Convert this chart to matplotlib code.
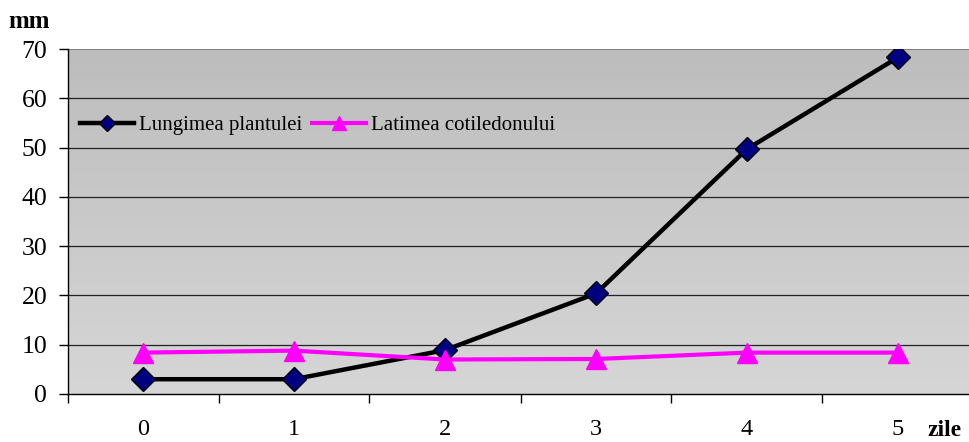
import numpy as np
import matplotlib
matplotlib.use('Agg')
import matplotlib.pyplot as plt

# Data
zile = [0, 1, 2, 3, 4, 5]
lungimea = [3.0, 3.0, 8.9, 20.4, 49.7, 68.3]
latimea = [8.4, 8.8, 7.0, 7.1, 8.4, 8.4]
y_ticks = [0, 10, 20, 30, 40, 50, 60, 70]

plt.rcParams['font.family'] = ['Liberation Serif', 'DejaVu Serif']

fig = plt.figure(figsize=(9.7, 4.42), dpi=100)
W, H = 970, 442
ax = fig.add_axes([67.5 / W, (H - 394) / H, 906 / W, 345 / H])

# gradient grey plot area
grad = np.linspace(0, 1, 256).reshape(-1, 1)
ax.imshow(grad, extent=[-0.5, 5.5, 0, 70], aspect='auto', origin='upper',
          cmap=matplotlib.colors.LinearSegmentedColormap.from_list('g', ['#bdbdbd', '#d6d6d6']),
          zorder=0)

# horizontal grid lines
for v in y_ticks[1:-1]:
    ax.axhline(v, color='#222222', lw=0.9, zorder=1)
ax.axhline(70, color='#808080', lw=1.5, zorder=1)

ax.plot(zile, lungimea, color='black', lw=3.2, marker='D', markersize=12.5,
        markerfacecolor='#000080', markeredgecolor='black', markeredgewidth=1,
        label='Lungimea plantulei', zorder=3)
ax.plot(zile, latimea, color='#ff00ff', lw=3, marker='^', markersize=15,
        markerfacecolor='#ff00ff', markeredgecolor='#ff00ff',
        label='Latimea cotiledonului', zorder=3)

ax.set_xlim(-0.5, 5.5)
ax.set_ylim(0, 70)
ax.set_yticks(y_ticks)
ax.set_xticks(zile)
ax.set_xticklabels([str(z) for z in zile])
ax.set_xticks(np.arange(-0.5, 6, 1), minor=True)
ax.tick_params(axis='x', which='major', length=0, pad=18, labelsize=17.5)
ax.tick_params(axis='x', which='minor', length=6.5, width=1, direction='out')
ax.tick_params(axis='y', length=6.5, width=1, direction='out', labelsize=18.5, pad=8)

for s in ['top', 'right']:
    ax.spines[s].set_visible(False)
ax.spines['left'].set_linewidth(1)
ax.spines['bottom'].set_linewidth(1)

leg = ax.legend(loc='center left', bbox_to_anchor=(0.0, 0.778), ncol=2, frameon=False,
                fontsize=15, handlelength=2.6, handletextpad=0.25, columnspacing=0.45,
                borderaxespad=0.2, markerscale=0.65)

fig.text(8 / W, 1 - 22 / H, 'mm', fontsize=18, fontweight='bold', va='center', ha='left')
fig.text(928 / W, 1 - 430 / H, 'zile', fontsize=17, fontweight='bold', va='center', ha='left')

fig.savefig('out.png', dpi=100)
